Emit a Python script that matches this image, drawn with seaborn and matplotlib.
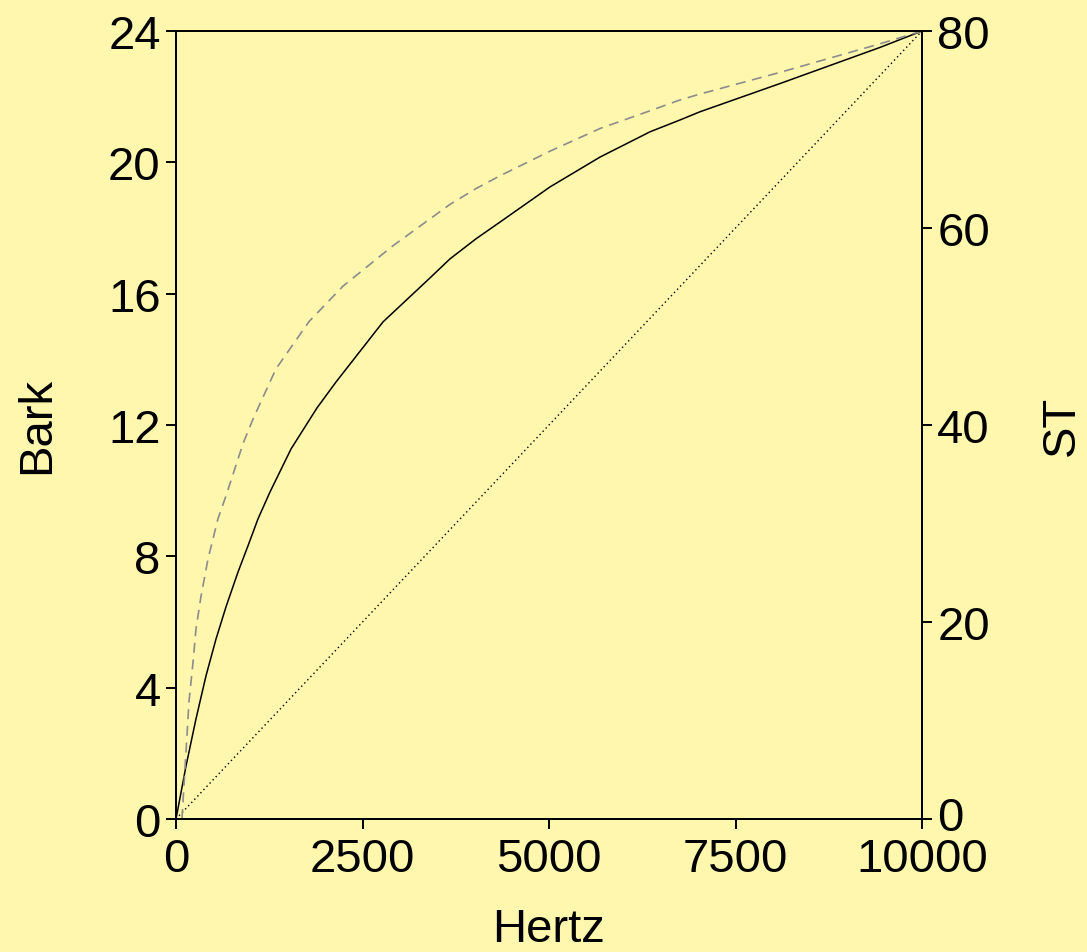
import numpy as np
import pandas as pd
import seaborn as sns
import matplotlib
matplotlib.use("Agg")
import matplotlib.pyplot as plt
from matplotlib.transforms import ScaledTranslation

# values
bark_hz = [0, 134, 268, 402, 536, 670, 831, 965, 1099, 1260, 1542, 1890, 2145,
           2775, 3391, 3673, 4021, 4343, 5013, 5684, 6354, 6756, 7024, 8097,
           9437, 10000]
bark_val = [0, 1.61, 3.05, 4.36, 5.48, 6.46, 7.52, 8.32, 9.14, 9.96, 11.27,
            12.52, 13.31, 15.14, 16.45, 17.06, 17.67, 18.18, 19.25, 20.16,
            20.93, 21.29, 21.54, 22.4, 23.5, 24]

st_hz = [80, 134, 174, 228, 268, 335, 429, 563, 670, 898, 1032, 1340, 1783,
         2239, 2909, 3673, 4021, 4343, 5013, 5684, 6354, 6756, 7024, 8097,
         9437, 10000]
st_val = [0, 6.8, 11.9, 15.9, 19.3, 22.6, 26.4, 30.5, 32.8, 38.1, 40.6, 45.7,
          50.5, 54.1, 58.2, 62.4, 64.0, 65.3, 67.8, 70.1, 71.9, 73.0, 73.6,
          75.8, 78.7, 80]

lin_hz = [0, 10000]
lin_val = [0, 24]

x_ticks = [0, 2500, 5000, 7500, 10000]
bark_ticks = [0, 4, 8, 12, 16, 20, 24]
st_ticks = [0, 20, 40, 60, 80]

bg = "#FFF7AE"
fs = 34

sns.set_style("ticks", {"axes.facecolor": bg, "figure.facecolor": bg,
                        "axes.edgecolor": "black", "text.color": "black",
                        "xtick.color": "black", "ytick.color": "black",
                        "axes.labelcolor": "black"})
plt.rcParams["font.family"] = ["Liberation Sans", "DejaVu Sans"]
plt.rcParams["font.size"] = fs
plt.rcParams["axes.linewidth"] = 1.4

fig = plt.figure(figsize=(10.87, 9.53), dpi=100, facecolor=bg)
ax = fig.add_axes([176 / 1087, 1 - 820 / 953, 746 / 1087, 788 / 953])

df_bark = pd.DataFrame({"hz": bark_hz, "val": bark_val})
df_lin = pd.DataFrame({"hz": lin_hz, "val": lin_val})
df_st = pd.DataFrame({"hz": st_hz, "val": st_val})

sns.lineplot(data=df_lin, x="hz", y="val", ax=ax, color="black",
             linewidth=1.0, linestyle=(0, (1, 2.2)))
sns.lineplot(data=df_bark, x="hz", y="val", ax=ax, color="black", linewidth=1.1)

ax.set_xlim(0, 10000)
ax.set_ylim(0, 24)
ax.set_xticks(x_ticks)
ax.set_yticks(bark_ticks)
ax.tick_params(axis="both", length=7, width=1.4, pad=4, labelsize=fs,
               colors="black")
ax.tick_params(axis="x", pad=6)
ax.set_xlabel("Hertz", fontsize=fs, color="black")
ax.set_ylabel("Bark", fontsize=fs, color="black")
ax.xaxis.set_label_coords(0.5, -0.112)
ax.yaxis.set_label_coords(-0.156, 0.5)

ax2 = ax.twinx()
sns.lineplot(data=df_st, x="hz", y="val", ax=ax2, color="#8c8c8c",
             linewidth=1.2, linestyle=(0, (6, 4)))
ax2.set_ylim(0, 80)
ax2.set_yticks(st_ticks)
ax2.set_xlim(0, 10000)
ax2.tick_params(axis="y", length=7, width=1.4, pad=4, labelsize=fs,
                colors="black")
ax2.set_ylabel("ST", fontsize=fs, color="black")
ax2.yaxis.set_label_coords(1.158, 0.5)
for sp in ax2.spines.values():
    sp.set_linewidth(1.4)

# nudge the right-hand "0" up a touch so it clears "10000"
zero_lbl = ax2.yaxis.get_major_ticks()[0].label2
zero_lbl.set_transform(zero_lbl.get_transform()
                       + ScaledTranslation(0, 4 / 72, fig.dpi_scale_trans))

fig.savefig("out.png", dpi=100, facecolor=bg)
